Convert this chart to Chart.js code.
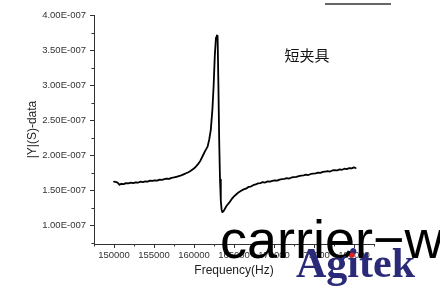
<!DOCTYPE html>
<html>
<head>
<meta charset="utf-8">
<script src="https://cdn.jsdelivr.net/npm/chart.js@4"></script>
<style>
  html, body { margin: 0; padding: 0; background: #fff; }
  #wrap { position: relative; width: 440px; height: 289px; }
  canvas { display: block; }
</style>
</head>
<body>
<div id="wrap"><canvas id="c" width="440" height="289"></canvas></div>
<script>
// ---- data (frequency in Hz, |Y| in units of 1e-7 S) ----
const frequencyHz = [
  150000,150300,150500,150700,150900,151200,151500,151800,152100,152400,
  152700,153000,153300,153600,153900,154200,154500,154800,155100,155400,
  155700,156000,156300,156600,156900,157200,157500,157800,158100,158400,
  158700,159000,159300,159600,159900,160200,160500,160800,161100,161400,
  161700,161900,162100,162300,162450,162600,162750,162850,162950,163050,
  163150,163250,163350,163450,163550,163700,163900,164100,164400,164700,
  165000,165300,165600,165900,166200,166500,166800,167100,167400,167700,
  168000,168300,168600,168900,169200,169500,169800,170100,170400,170700,
  171000,171300,171600,171900,172200,172500,172800,173100,173400,173700,
  174000,174300,174600,174900,175200,175500,175800,176100,176400,176700,
  177000,177300,177600,177900,178200,178500,178800,179100,179400,179700,
  180000,180200
];
const admittanceE7 = [
  1.620,1.615,1.600,1.575,1.590,1.585,1.600,1.595,1.605,1.600,
  1.610,1.605,1.620,1.615,1.625,1.620,1.635,1.630,1.640,1.635,
  1.650,1.645,1.655,1.665,1.660,1.675,1.680,1.690,1.700,1.710,
  1.725,1.740,1.755,1.775,1.800,1.830,1.870,1.920,1.990,2.060,
  2.120,2.220,2.360,2.650,2.980,3.420,3.680,3.710,3.700,3.000,
  2.200,1.650,1.350,1.220,1.185,1.200,1.240,1.280,1.320,1.370,
  1.410,1.440,1.470,1.490,1.510,1.520,1.545,1.550,1.570,1.580,
  1.595,1.600,1.615,1.608,1.625,1.620,1.630,1.640,1.635,1.650,
  1.655,1.660,1.670,1.665,1.680,1.685,1.690,1.700,1.705,1.710,
  1.720,1.715,1.730,1.735,1.740,1.750,1.745,1.760,1.765,1.770,
  1.765,1.780,1.785,1.780,1.795,1.790,1.805,1.800,1.815,1.810,
  1.825,1.815
];
const xTickValues = [150000,155000,160000,165000,170000,175000,180000];
const yTickValuesE7 = [1.0,1.5,2.0,2.5,3.0,3.5,4.0];
const xMinorValues = [147500,152500,157500,162500,167500,172500,177500,182500];
const yMinorValuesE7 = [0.75,1.25,1.75,2.25,2.75,3.25,3.75];
const xTitle = 'Frequency(Hz)';
const yTitle = '|Y|(S)-data';
const chartLabel = '短夹具';
const watermark1 = 'carrier\u2212w';
const watermark2 = 'Agitek';

const E7 = 1e-7;
const points = frequencyHz.map((f, i) => ({ x: f, y: admittanceE7[i] * E7 }));

function fmtExp(v) {
  const [m, e] = v.toExponential(2).split('e');
  const n = parseInt(e, 10);
  return m + 'E' + (n < 0 ? '-' : '+') + String(Math.abs(n)).padStart(3, '0');
}

const overlay = {
  id: 'overlay',
  afterDraw(chart) {
    const ctx = chart.ctx;
    const xs = chart.scales.x, ys = chart.scales.y;
    ctx.save();
    // minor ticks
    ctx.strokeStyle = '#333';
    ctx.lineWidth = 1;
    ctx.beginPath();
    xMinorValues.forEach(v => {
      const px = Math.round(xs.getPixelForValue(v)) + 0.5;
      ctx.moveTo(px, ys.bottom); ctx.lineTo(px, ys.bottom + 2.5);
    });
    yMinorValuesE7.forEach(v => {
      const py = Math.round(ys.getPixelForValue(v * E7)) + 0.5;
      ctx.moveTo(xs.left, py); ctx.lineTo(xs.left - 2.5, py);
    });
    ctx.stroke();
    // label in plot
    ctx.fillStyle = '#111';
    ctx.font = '15px "Noto Sans CJK SC"';
    ctx.textAlign = 'center';
    ctx.textBaseline = 'middle';
    ctx.fillText(chartLabel, 307, 55);
    // top decorative line
    ctx.strokeStyle = '#333';
    ctx.lineWidth = 1.3;
    ctx.beginPath(); ctx.moveTo(325, 4); ctx.lineTo(391, 4); ctx.stroke();
    // watermarks
    ctx.textAlign = 'left';
    ctx.textBaseline = 'alphabetic';
    ctx.fillStyle = '#000';
    ctx.font = '54px "Liberation Sans", Arial, sans-serif';
    ctx.fillText(watermark1, 220, 258);
    ctx.fillStyle = '#2b2a78';
    ctx.font = 'bold 42px "Liberation Serif", "Times New Roman", serif';
    ctx.fillText(watermark2, 296, 277);
    ctx.fillStyle = '#e3201b';
    ctx.beginPath(); ctx.arc(352, 255, 2.6, 0, Math.PI * 2); ctx.fill();
    ctx.restore();
  }
};

new Chart(document.getElementById('c'), {
  type: 'line',
  data: {
    datasets: [{
      data: points,
      borderColor: '#000',
      borderWidth: 1.8,
      borderJoinStyle: 'round',
      borderCapStyle: 'round',
      pointRadius: 0,
      tension: 0,
      fill: false
    }]
  },
  options: {
    responsive: false,
    animation: false,
    events: [],
    layout: { padding: { left: 0, top: 15, right: 66, bottom: 0 } },
    plugins: { legend: { display: false }, tooltip: { enabled: false } },
    scales: {
      x: {
        type: 'linear',
        min: 147500,
        max: 182500,
        afterBuildTicks: s => { s.ticks = xTickValues.map(v => ({ value: v })); },
        afterFit: s => { s.height = 45; },
        grid: { drawOnChartArea: false, drawTicks: true, tickLength: 4, color: '#333' },
        border: { display: true, color: '#333', width: 1 },
        ticks: {
          color: '#333', padding: 2, maxRotation: 0, autoSkip: false,
          font: { family: '"Liberation Sans", Arial, sans-serif', size: 9.5 },
          callback: v => String(v)
        },
        title: {
          display: true, text: xTitle, color: '#222',
          font: { family: '"Liberation Sans", Arial, sans-serif', size: 12 },
          padding: { top: 0, bottom: 11 }
        }
      },
      y: {
        type: 'linear',
        min: 0.73 * E7,
        max: 4.0 * E7,
        afterBuildTicks: s => { s.ticks = yTickValuesE7.map(v => ({ value: v * E7 })); },
        afterFit: s => { s.width = 94; },
        grid: { drawOnChartArea: false, drawTicks: true, tickLength: 4, color: '#333' },
        border: { display: true, color: '#333', width: 1 },
        ticks: {
          color: '#333', padding: 4, autoSkip: false,
          font: { family: '"Liberation Sans", Arial, sans-serif', size: 9.5 },
          callback: v => fmtExp(v)
        },
        title: {
          display: true, text: yTitle, color: '#222',
          font: { family: '"Liberation Sans", Arial, sans-serif', size: 12 },
          padding: { top: 25, bottom: 0 }
        }
      }
    }
  },
  plugins: [overlay]
});
</script>
</body>
</html>
